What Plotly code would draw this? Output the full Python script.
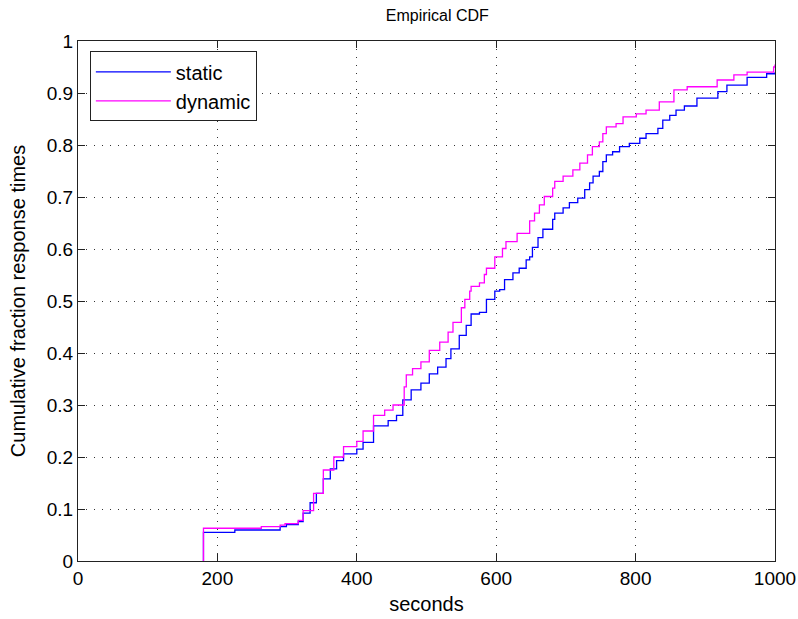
import plotly.graph_objects as go

# Estimated ECDF step points (seconds, cumulative fraction)
static_x = [180, 180, 225, 290, 299, 316, 323, 333, 342, 352,
            362, 371, 381, 400, 409, 424, 445, 457, 466, 478,
            492, 504, 516, 528, 535, 547, 557, 564, 576, 586,
            598, 605, 612, 624, 633, 643, 648, 652, 660, 667,
            681, 684, 696, 705, 717, 727, 734, 739, 748, 753,
            758, 767, 777, 791, 806, 815, 832, 839, 849, 858,
            870, 888, 918, 931, 960, 988, 1000]
static_y = [0, 0.055, 0.0596, 0.066, 0.07, 0.076, 0.092, 0.112, 0.13, 0.158,
            0.177, 0.193, 0.206, 0.215, 0.228, 0.26, 0.27, 0.28, 0.31, 0.329,
            0.342, 0.36, 0.373, 0.389, 0.408, 0.434, 0.453, 0.475, 0.478, 0.503,
            0.519, 0.522, 0.541, 0.554, 0.563, 0.579, 0.585, 0.603, 0.622, 0.638,
            0.657, 0.669, 0.679, 0.689, 0.698, 0.714, 0.727, 0.74, 0.749, 0.768,
            0.781, 0.787, 0.797, 0.803, 0.813, 0.822, 0.832, 0.848, 0.857, 0.867,
            0.875, 0.89, 0.9025, 0.915, 0.93, 0.937, 0.94]

dynamic_x = [180, 180, 263, 290, 297, 316, 323, 338, 352, 367,
             381, 400, 409, 424, 440, 452, 468, 471, 480, 492,
             504, 519, 531, 538, 550, 555, 562, 564, 576, 583,
             586, 598, 609, 614, 630, 648, 655, 662, 669, 681,
             684, 696, 710, 720, 731, 738, 748, 753, 758, 772,
             782, 801, 815, 834, 855, 874, 917, 941, 960, 998, 1000]
dynamic_y = [0, 0.063, 0.066, 0.069, 0.072, 0.078, 0.097, 0.13, 0.175, 0.2,
             0.22, 0.23, 0.25, 0.28, 0.29, 0.30, 0.335, 0.358, 0.37, 0.383,
             0.405, 0.421, 0.44, 0.459, 0.487, 0.503, 0.519, 0.528, 0.535, 0.551,
             0.563, 0.585, 0.601, 0.614, 0.63, 0.654, 0.669, 0.685, 0.701, 0.717,
             0.73, 0.74, 0.752, 0.765, 0.781, 0.797, 0.806, 0.822, 0.835, 0.841,
             0.854, 0.86, 0.867, 0.883, 0.906, 0.912, 0.925, 0.935, 0.94, 0.95, 0.955]

x_ticks = [0, 200, 400, 600, 800, 1000]
y_ticks = [0, 0.1, 0.2, 0.3, 0.4, 0.5, 0.6, 0.7, 0.8, 0.9, 1]
y_tick_labels = ["0", "0.1", "0.2", "0.3", "0.4", "0.5", "0.6", "0.7", "0.8", "0.9", "1"]

font = "Liberation Sans, Arial, sans-serif"

fig = go.Figure()
fig.add_trace(go.Scatter(x=static_x, y=static_y, mode="lines", name="static",
                         line=dict(color="#0000ff", width=1.3, shape="hv")))
fig.add_trace(go.Scatter(x=dynamic_x, y=dynamic_y, mode="lines", name="dynamic",
                         line=dict(color="#ff00ff", width=1.3, shape="hv")))

axis_common = dict(showline=True, linecolor="#222222", linewidth=1, mirror="ticks",
                   ticks="inside", ticklen=7, tickcolor="#222222", automargin=False,
                   showgrid=True, gridcolor="#333333", griddash="1px,7px", gridwidth=1,
                   zeroline=False, tickfont=dict(family=font, size=19, color="black"))

fig.update_layout(
    width=798, height=619,
    paper_bgcolor="white", plot_bgcolor="white",
    margin=dict(l=78, r=23, t=41, b=58),
    title=dict(text="Empirical CDF", x=0.548, xanchor="center", y=0.975, yanchor="middle",
               font=dict(family=font, size=16, color="black")),
    xaxis=dict(range=[0, 1000], tickvals=x_ticks,
               title=dict(text="seconds", font=dict(family=font, size=20, color="black"), standoff=9),
               **axis_common),
    yaxis=dict(range=[0, 1], tickvals=y_ticks, ticktext=y_tick_labels,
               title=dict(text="Cumulative fraction response times", font=dict(family=font, size=20, color="black"),
                          standoff=15),
               **axis_common),
    legend=dict(x=0.017, y=0.98, xanchor="left", yanchor="top", bgcolor="white",
                bordercolor="#222222", borderwidth=1, font=dict(family=font, size=20, color="black"),
                itemwidth=75, tracegroupgap=0),
    showlegend=True,
)

fig.write_html("out.html")
